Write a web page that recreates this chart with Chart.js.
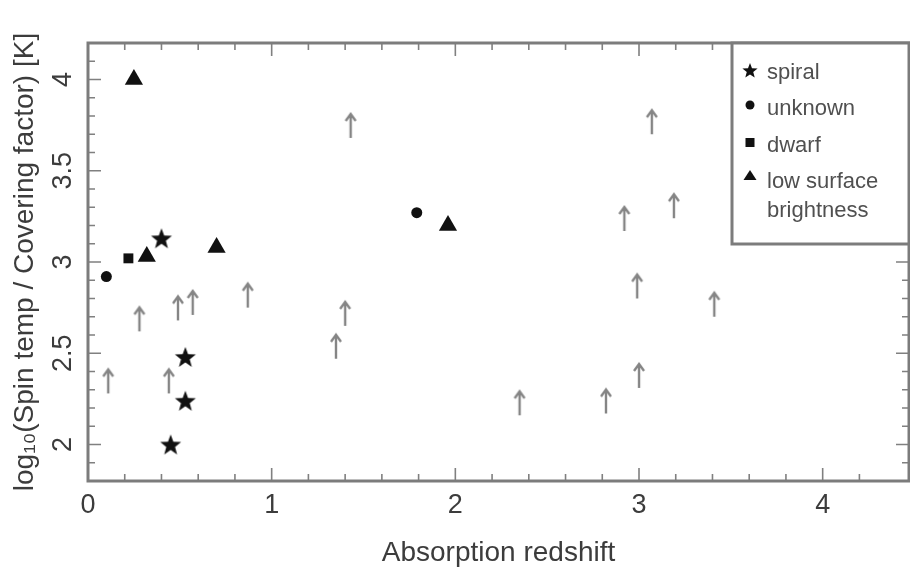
<!DOCTYPE html>
<html>
<head>
<meta charset="utf-8">
<script src="https://cdn.jsdelivr.net/npm/chart.js@4"></script>
<style>
  html, body { margin: 0; padding: 0; background: #fff; }
  #wrap { width: 910px; height: 569px; }
</style>
</head>
<body>
<div id="wrap"><canvas id="chart" width="910" height="569"></canvas></div>
<script>
/* values */
const spiralX = [0.45, 0.53, 0.53, 0.40];
const spiralY = [2.00, 2.24, 2.48, 3.13];
const unknownX = [0.10, 1.79];
const unknownY = [2.92, 3.27];
const dwarfX = [0.22];
const dwarfY = [3.02];
const lsbX = [0.25, 0.32, 0.70, 1.96];
const lsbY = [4.00, 3.03, 3.08, 3.20];
// lower limits, value = base of the arrow
const limitX = [0.11, 0.28, 0.44, 0.49, 0.57, 0.87, 1.35, 1.40, 1.43, 2.35, 2.82, 2.92, 2.99, 3.00, 3.07, 3.19, 3.41];
const limitY = [2.28, 2.62, 2.28, 2.68, 2.71, 2.75, 2.47, 2.65, 3.68, 2.16, 2.17, 3.17, 2.80, 2.31, 3.70, 3.24, 2.70];

const xRange = [0, 4.47];
const yRange = [1.8, 4.2];
const legendLabels = ['spiral', 'unknown', 'dwarf', ['low surface', 'brightness']];

const pts = (xs, ys) => xs.map((x, i) => ({ x: x, y: ys[i] }));

function starPath(ctx, cx, cy, ro, ri) {
  ctx.beginPath();
  for (let i = 0; i < 10; i++) {
    const r = i % 2 ? ri : ro;
    const a = -Math.PI / 2 + i * Math.PI / 5;
    ctx.lineTo(cx + r * Math.cos(a), cy + r * Math.sin(a));
  }
  ctx.closePath();
}

function makeStar(size, ro, ri) {
  const c = document.createElement('canvas');
  c.width = size; c.height = size;
  const g = c.getContext('2d');
  g.fillStyle = '#111';
  starPath(g, size / 2, size / 2 + 1, ro, ri);
  g.fill();
  return c;
}

// arrow image: centre of the canvas is the base of the arrow
function makeArrow() {
  const c = document.createElement('canvas');
  c.width = 16; c.height = 54;
  const g = c.getContext('2d');
  g.strokeStyle = '#858585';
  g.lineWidth = 2.4;
  g.beginPath();
  g.moveTo(8, 27); g.lineTo(8, 3);
  g.moveTo(3, 10); g.lineTo(8, 3); g.lineTo(13, 10);
  g.stroke();
  return c;
}

const starImg = makeStar(26, 11, 4.6);
const arrowImg = makeArrow();

const isMajor = (v, step) => Math.abs(v / step - Math.round(v / step)) < 1e-6;

const framePlugin = {
  id: 'frame',
  beforeDatasetsDraw(chart) {
    const { ctx, chartArea: a } = chart;
    const xs = chart.scales.x, ys = chart.scales.y;
    ctx.save();
    ctx.strokeStyle = '#808080';
    ctx.lineWidth = 1.6;
    xs.ticks.forEach(t => {
      if (t.value <= xs.min + 1e-6 || t.value >= xs.max - 1e-6) return;
      const px = xs.getPixelForValue(t.value);
      const len = isMajor(t.value, 1) ? 13 : 7;
      ctx.beginPath();
      ctx.moveTo(px, a.bottom); ctx.lineTo(px, a.bottom - len);
      ctx.moveTo(px, a.top); ctx.lineTo(px, a.top + len);
      ctx.stroke();
    });
    ys.ticks.forEach(t => {
      if (t.value <= ys.min + 1e-6 || t.value >= ys.max - 1e-6) return;
      const py = ys.getPixelForValue(t.value);
      const len = isMajor(t.value, 0.5) ? 13 : 7;
      ctx.beginPath();
      ctx.moveTo(a.left, py); ctx.lineTo(a.left + len, py);
      ctx.moveTo(a.right, py); ctx.lineTo(a.right - len, py);
      ctx.stroke();
    });
    ctx.lineWidth = 3;
    ctx.strokeStyle = '#7c7c7c';
    ctx.strokeRect(a.left, a.top, a.right - a.left, a.bottom - a.top);
    ctx.restore();
  }
};

const legendPlugin = {
  id: 'boxLegend',
  afterDraw(chart) {
    const { ctx, chartArea: a } = chart;
    const bx = 732, by = a.top, bw = a.right - bx, bh = 201;
    ctx.save();
    ctx.fillStyle = '#fff';
    ctx.fillRect(bx, by, bw, bh);
    ctx.strokeStyle = '#7c7c7c';
    ctx.lineWidth = 3;
    ctx.strokeRect(bx, by, bw, bh);

    const mx = 750, tx = 767;
    const rows = [73, 109, 146, 182];
    ctx.fillStyle = '#111';
    // star
    starPath(ctx, mx, rows[0] - 2, 8, 3.4);
    ctx.fill();
    // circle
    ctx.beginPath(); ctx.arc(mx, rows[1] - 4, 4.5, 0, Math.PI * 2); ctx.fill();
    // square
    ctx.fillRect(mx - 4.5, rows[2] - 8, 9, 9);
    // triangle
    ctx.beginPath();
    ctx.moveTo(mx, rows[3] - 12); ctx.lineTo(mx + 6.5, rows[3] - 2); ctx.lineTo(mx - 6.5, rows[3] - 2);
    ctx.closePath(); ctx.fill();

    ctx.fillStyle = '#505050';
    ctx.font = '22px "Liberation Sans", Arial, sans-serif';
    ctx.textBaseline = 'middle';
    ctx.textAlign = 'left';
    legendLabels.forEach((lab, i) => {
      const lines = Array.isArray(lab) ? lab : [lab];
      lines.forEach((s, j) => ctx.fillText(s, tx, rows[i] + j * 29));
    });
    ctx.restore();
  }
};

const tickFont = { family: '"Liberation Sans", Arial, sans-serif', size: 27 };
const titleFont = { family: '"Liberation Sans", Arial, sans-serif', size: 28 };

new Chart(document.getElementById('chart'), {
  type: 'scatter',
  data: {
    datasets: [
      { label: 'lower limit', data: pts(limitX, limitY), pointStyle: arrowImg, pointRadius: 8 },
      { label: 'spiral', data: pts(spiralX, spiralY), pointStyle: starImg, pointRadius: 10 },
      { label: 'unknown', data: pts(unknownX, unknownY), pointStyle: 'circle', pointRadius: 5.5,
        backgroundColor: '#111', borderColor: '#111', borderWidth: 0 },
      { label: 'dwarf', data: pts(dwarfX, dwarfY), pointStyle: 'rect', pointRadius: 7,
        backgroundColor: '#111', borderColor: '#111', borderWidth: 0 },
      { label: 'low surface brightness', data: pts(lsbX, lsbY), pointStyle: 'triangle', pointRadius: 10.5,
        backgroundColor: '#111', borderColor: '#111', borderWidth: 0 }
    ]
  },
  options: {
    responsive: false,
    animation: false,
    layout: { autoPadding: false, padding: { top: 43, right: 1, left: 0, bottom: 0 } },
    plugins: {
      legend: { display: false },
      tooltip: { enabled: false }
    },
    scales: {
      x: {
        type: 'linear',
        min: xRange[0],
        max: xRange[1],
        afterFit: s => { s.height = 88; s.paddingLeft = 0; s.paddingRight = 0; },
        grid: { display: false, drawTicks: false },
        border: { display: false },
        ticks: {
          stepSize: 0.2,
          autoSkip: false,
          maxRotation: 0,
          padding: 8,
          color: '#3c3c3c',
          font: tickFont,
          callback: v => isMajor(v, 1) && v < 4.4 ? String(Math.round(v)) : ''
        },
        title: {
          display: true,
          text: 'Absorption redshift',
          color: '#3c3c3c',
          font: titleFont,
          padding: { top: 0, bottom: -1 }
        }
      },
      y: {
        type: 'linear',
        min: yRange[0],
        max: yRange[1],
        afterFit: s => { s.width = 88; s.paddingTop = 0; s.paddingBottom = 0; },
        grid: { display: false, drawTicks: false },
        border: { display: false },
        ticks: {
          stepSize: 0.1,
          autoSkip: false,
          minRotation: 90,
          maxRotation: 90,
          crossAlign: 'center',
          padding: 6,
          color: '#3c3c3c',
          font: tickFont,
          callback: v => isMajor(v, 0.5) && v > 1.85 && v < 4.15 ? String(Math.round(v * 10) / 10) : ''
        },
        title: {
          display: true,
          text: 'log\u2081\u2080(Spin temp / Covering factor) [K]',
          color: '#3c3c3c',
          font: titleFont,
          padding: { top: 8, bottom: 0 }
        }
      }
    }
  },
  plugins: [framePlugin, legendPlugin]
});
</script>
</body>
</html>
